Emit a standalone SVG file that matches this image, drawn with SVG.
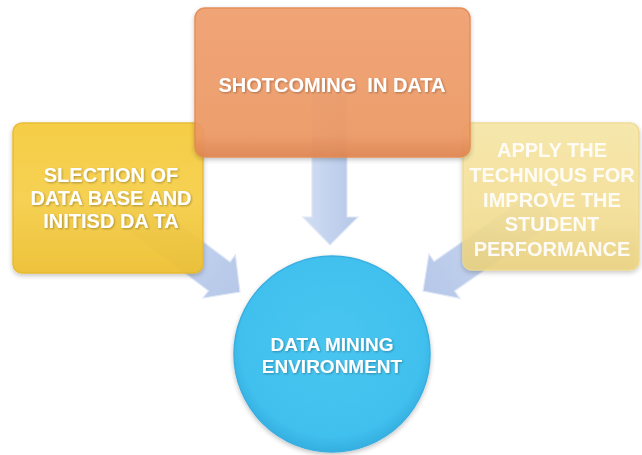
<svg xmlns="http://www.w3.org/2000/svg" width="642" height="455" viewBox="0 0 642 455">
<style>
  .lbl { font-family: "Liberation Sans", Arial, sans-serif; font-weight: bold; fill: #ffffff; text-anchor: middle; }
  .box-txt { font-size: 20px; }
  .circ-txt { font-size: 19px; }
  .arrow { fill: url(#arrowGrad); stroke: #dfe7f6; stroke-width: 1.2; }
</style>
<defs>
  <linearGradient id="arrowGrad" x1="0" y1="0" x2="1" y2="0">
    <stop offset="0" stop-color="#d3def3"/>
    <stop offset="0.5" stop-color="#c2d2ee"/>
    <stop offset="1" stop-color="#b6c7e8"/>
  </linearGradient>
  <linearGradient id="orangeGrad" x1="0" y1="0" x2="0" y2="1">
    <stop offset="0" stop-color="#f1a170"/>
    <stop offset="0.85" stop-color="#ee9a66"/>
    <stop offset="1" stop-color="#e08550"/>
  </linearGradient>
  <linearGradient id="yellowGrad" x1="0" y1="0" x2="0" y2="1">
    <stop offset="0" stop-color="#f7cc3c"/>
    <stop offset="0.5" stop-color="#f8d04a"/>
    <stop offset="1" stop-color="#efc132"/>
  </linearGradient>
  <linearGradient id="paleGrad" x1="0" y1="0" x2="0" y2="1">
    <stop offset="0" stop-color="#f8e8a6"/>
    <stop offset="0.6" stop-color="#f6e196"/>
    <stop offset="1" stop-color="#ecd27e"/>
  </linearGradient>
  <radialGradient id="circGrad" cx="0.5" cy="0.45" r="0.55">
    <stop offset="0" stop-color="#48c6f0"/>
    <stop offset="0.85" stop-color="#41c0ee"/>
    <stop offset="1" stop-color="#34afe0"/>
  </radialGradient>
  <filter id="soft" x="-10%" y="-10%" width="120%" height="125%">
    <feGaussianBlur in="SourceAlpha" stdDeviation="2.5"/>
    <feOffset dy="2"/>
    <feComponentTransfer><feFuncA type="linear" slope="0.25"/></feComponentTransfer>
    <feMerge><feMergeNode/><feMergeNode in="SourceGraphic"/></feMerge>
  </filter>
  <filter id="txtShadow" x="-10%" y="-20%" width="120%" height="140%">
    <feGaussianBlur in="SourceAlpha" stdDeviation="1"/>
    <feOffset dx="0.5" dy="1"/>
    <feComponentTransfer><feFuncA type="linear" slope="0.3"/></feComponentTransfer>
    <feMerge><feMergeNode/><feMergeNode in="SourceGraphic"/></feMerge>
  </filter>
</defs>

<rect width="642" height="455" fill="#ffffff"/>

<!-- connectors -->
<g id="connectors">
  <!-- down arrow from top box -->
  <path class="arrow" d="M312,95 L347,95 L347,217 L358,217 L330,245 L303,217 L312,217 Z"/>
  <!-- left arrow (rotated 37deg) -->
  <g transform="translate(240,292) rotate(36.9)">
    <path class="arrow" d="M-150,-18 L-26,-18 L-26,-27 L0,0 L-26,27 L-26,18 L-150,18 Z"/>
  </g>
  <!-- right arrow -->
  <g transform="translate(423,291) rotate(145.2)">
    <path class="arrow" d="M-150,-18 L-26,-18 L-26,-27 L0,0 L-26,27 L-26,18 L-150,18 Z"/>
  </g>
</g>

<g id="node-selection" filter="url(#soft)">
  <rect x="13" y="123" width="190" height="150" rx="9" fill="url(#yellowGrad)" stroke="#e8b828" stroke-width="1.5" opacity="0.93"/>
  <g filter="url(#txtShadow)">
    <text class="lbl box-txt" x="111" y="182">SLECTION OF</text>
    <text class="lbl box-txt" x="111" y="205">DATA BASE AND</text>
    <text class="lbl box-txt" x="111" y="228">INITISD DA TA</text>
  </g>
</g>

<g id="node-apply" filter="url(#soft)">
  <rect x="463" y="123" width="176" height="147" rx="9" fill="url(#paleGrad)" stroke="#eed888" stroke-width="1.5" opacity="0.88"/>
  <g opacity="0.9">
    <text class="lbl box-txt" x="552" y="157">APPLY THE</text>
    <text class="lbl box-txt" x="552" y="182">TECHNIQUS FOR</text>
    <text class="lbl box-txt" x="552" y="207">IMPROVE THE</text>
    <text class="lbl box-txt" x="552" y="231">STUDENT</text>
    <text class="lbl box-txt" x="552" y="256">PERFORMANCE</text>
  </g>
</g>

<g id="node-shortcoming" filter="url(#soft)">
  <rect x="195" y="8" width="275" height="149" rx="10" fill="url(#orangeGrad)" stroke="#e4894f" stroke-width="1.5" opacity="0.93"/>
  <text class="lbl box-txt" x="332" y="92" filter="url(#txtShadow)" xml:space="preserve">SHOTCOMING  IN DATA</text>
</g>

<g id="node-environment" filter="url(#soft)">
  <circle cx="332" cy="354" r="98" fill="url(#circGrad)" stroke="#3aaee0" stroke-width="1.5"/>
  <g filter="url(#txtShadow)">
    <text class="lbl circ-txt" x="332" y="351">DATA MINING</text>
    <text class="lbl circ-txt" x="332" y="373">ENVIRONMENT</text>
  </g>
</g>
</svg>
